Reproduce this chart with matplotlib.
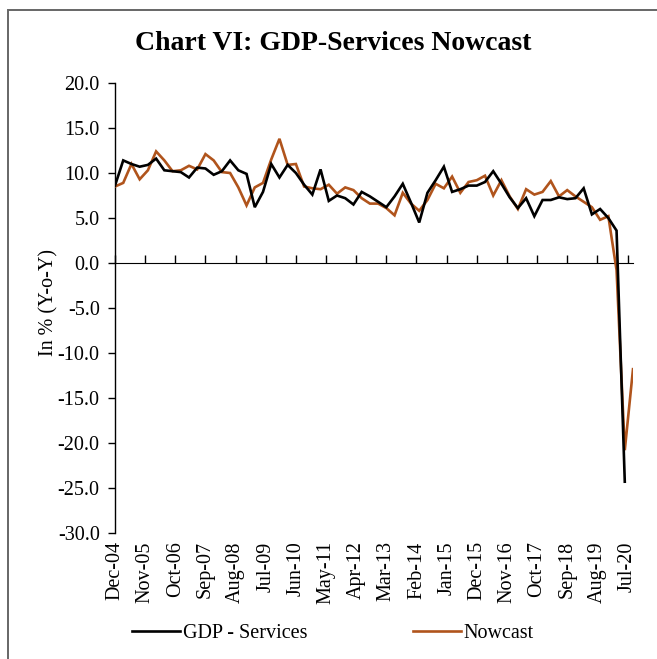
import numpy as np
import matplotlib
matplotlib.use("Agg")
import matplotlib.pyplot as plt
from matplotlib.patches import Rectangle
from matplotlib.lines import Line2D

# ---- data (quarterly, starting Dec-04) ----
gdp_services = [8.6, 11.4, 11.0, 10.7, 10.9, 11.6, 10.3, 10.2, 10.1, 9.5,
                10.6, 10.5, 9.8, 10.2, 11.4, 10.3, 9.9, 6.2, 7.9, 11.0,
                9.5, 10.9, 10.0, 8.7, 7.6, 10.4, 6.9, 7.5, 7.2, 6.5,
                7.9, 7.4, 6.8, 6.2, 7.4, 8.8, 6.7, 4.5, 7.8, 9.2,
                10.7, 7.9, 8.2, 8.6, 8.6, 9.0, 10.2, 8.8, 7.3, 6.1,
                7.2, 5.2, 7.0, 7.0, 7.3, 7.1, 7.2, 8.3, 5.4, 6.0,
                5.0, 3.6, -24.3]
nowcast = [8.5, 8.9, 11.0, 9.3, 10.3, 12.4, 11.4, 10.2, 10.3, 10.8,
           10.4, 12.1, 11.4, 10.1, 10.0, 8.4, 6.4, 8.4, 8.9, 11.5,
           13.8, 10.9, 11.0, 8.5, 8.3, 8.2, 8.7, 7.7, 8.4, 8.1,
           7.2, 6.6, 6.6, 6.1, 5.3, 7.8, 6.6, 5.8, 7.0, 8.8,
           8.3, 9.6, 7.8, 9.0, 9.2, 9.7, 7.5, 9.2, 7.4, 6.0,
           8.2, 7.6, 7.9, 9.1, 7.4, 8.1, 7.4, 6.8, 6.2, 4.8,
           5.2, -0.8, -20.8, -11.8]
tick_labels = ["Dec-04", "Nov-05", "Oct-06", "Sep-07", "Aug-08", "Jul-09",
               "Jun-10", "May-11", "Apr-12", "Mar-13", "Feb-14", "Jan-15",
               "Dec-15", "Nov-16", "Oct-17", "Sep-18", "Aug-19", "Jul-20"]
y_ticks = [20, 15, 10, 5, 0, -5, -10, -15, -20, -25, -30]

# months since Dec-04
x_gdp = np.arange(len(gdp_services)) * 3
x_now = np.arange(len(nowcast)) * 3
x_ticks = np.arange(len(tick_labels)) * 11

FONT = "Liberation Serif"
FS = 14.5
plt.rcParams["font.family"] = [FONT, "DejaVu Serif"]

fig = plt.figure(figsize=(6.57, 6.59), dpi=100)
ax = fig.add_axes([115 / 657, 1 - 533 / 659, 518 / 657, 450 / 659])

ax.plot(x_now, nowcast, color="#B0541C", lw=1.9, solid_joinstyle="miter", zorder=3)
ax.plot(x_gdp, gdp_services, color="black", lw=1.9, solid_joinstyle="miter", zorder=4)

ax.set_xlim(0, 189)
ax.set_ylim(-30, 20)

for s in ["top", "right", "bottom"]:
    ax.spines[s].set_visible(False)
ax.spines["left"].set_linewidth(1.0)

ax.set_yticks(y_ticks)
ax.set_yticklabels([f"{v:.1f}" for v in y_ticks], fontsize=FS)
ax.tick_params(axis="y", direction="out", length=5, width=1.0, pad=6)

ax.set_xticks(x_ticks)
ax.set_xticklabels(tick_labels, rotation=90, fontsize=FS)
ax.tick_params(axis="x", length=0, pad=6)

# zero axis line with tick marks
sec = ax.secondary_xaxis(0.6)
sec.set_xticks(x_ticks)
sec.set_xticklabels([])
sec.tick_params(axis="x", direction="out", length=6, width=1.0)
sec.spines["bottom"].set_linewidth(1.0)

ax.set_ylabel("In % (Y-o-Y)", fontsize=FS)
ax.yaxis.set_label_coords(-0.11, 0.513)

fig.text(0.507, 1 - 43 / 659, "Chart VI: GDP-Services Nowcast", ha="center", va="center",
         fontsize=20, fontweight="bold")

handles = [Line2D([], [], color="black", lw=1.9), Line2D([], [], color="#B0541C", lw=1.9)]
fig.legend(handles, ["GDP - Services", "Nowcast"], loc="center", ncol=2,
           bbox_to_anchor=(333 / 657, 1 - 633 / 659), frameon=False, fontsize=FS,
           handlelength=2.4, handletextpad=0.15, columnspacing=5.2)

fig.patches.append(Rectangle((8 / 657, -0.2), 1.5, 1 - 10 / 659 + 0.2, transform=fig.transFigure,
                             fill=False, edgecolor="#666666", lw=1.4, clip_on=False))

fig.savefig("out.png", dpi=100)
